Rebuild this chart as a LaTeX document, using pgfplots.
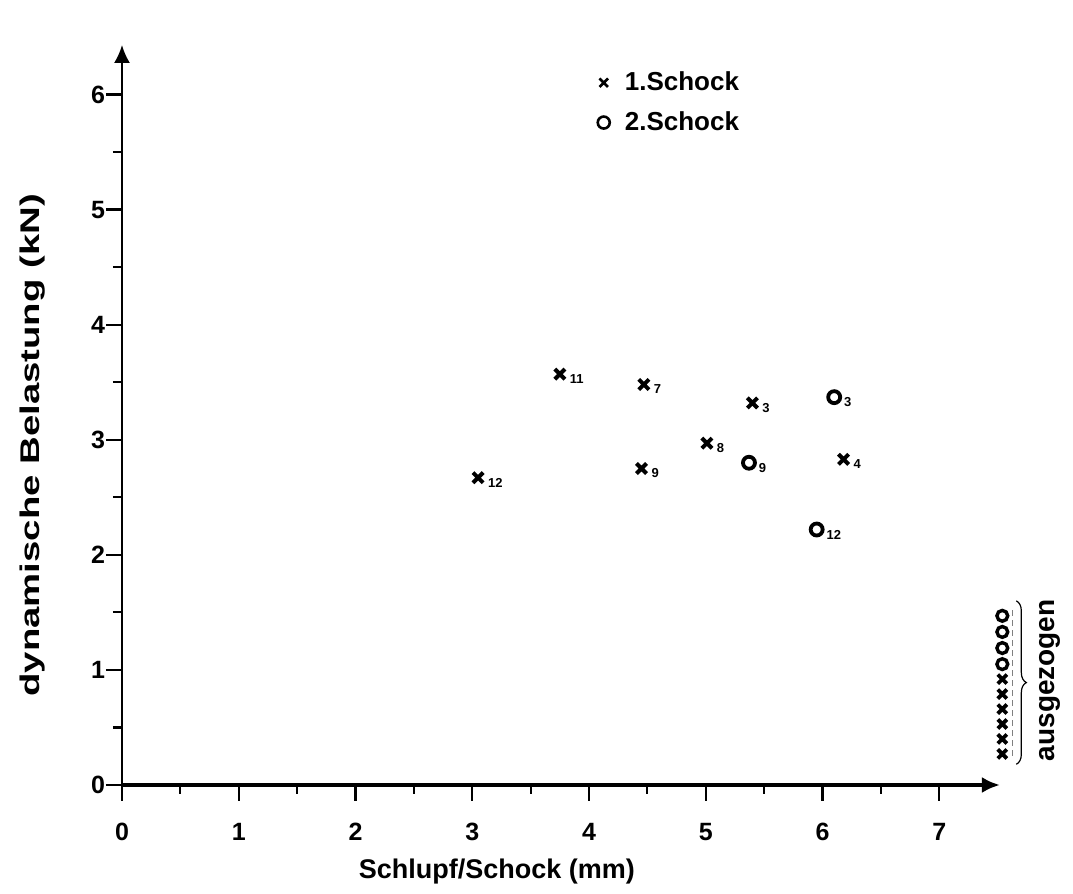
\documentclass[border=0pt]{standalone}
\usepackage{fontspec}
\setmainfont{Liberation Sans}
\usepackage{pgfplots}
\usepackage{pgfplotstable}
\pgfplotsset{compat=1.18}
\usetikzlibrary{arrows.meta,decorations.pathreplacing}

\pgfplotstableread{
x y l
3.75 3.57 11
4.47 3.48 7
5.40 3.32 3
5.01 2.97 8
4.45 2.75 9
6.18 2.83 4
3.05 2.67 12
}\first
\pgfplotstableread{
x y l
6.10 3.37 3
5.37 2.80 9
5.95 2.22 12
}\second
\pgfplotstableread{
x y
7.54 1.47
7.54 1.33
7.54 1.19
7.54 1.05
}\outo
\pgfplotstableread{
x y
7.54 0.92
7.54 0.79
7.54 0.66
7.54 0.53
7.54 0.40
7.54 0.27
}\outx

\begin{document}
\begin{tikzpicture}
\begin{axis}[
  scale only axis, width=439pt, height=370pt,
  xmin=0, xmax=7.52, ymin=0, ymax=6.43,
  clip=false,
  axis lines=left,
  x axis line style={line width=2pt, -{Latex[length=9pt,width=8pt]}},
  y axis line style={line width=1pt, -{Latex[length=9pt,width=8pt]}},
  xtick={0,...,7}, ytick={0,...,6},
  minor x tick num=1, minor y tick num=1,
  tick align=outside,
  major tick length=8pt, minor tick length=4.5pt,
  every tick/.append style={black, line width=1.1pt},
  /pgf/number format/assume math mode=true,
  ticklabel style={font=\fontsize{12.5}{14}\selectfont\bfseries},
  xticklabel style={yshift=-7.5pt},
  yticklabel style={xshift=3pt},
  xlabel={Schlupf/Schock (mm)},
  ylabel={\scalebox{1.42}[1.0]{dynamische Belastung (kN)}},
  label style={font=\fontsize{13.5}{15}\selectfont\bfseries},
  xlabel style={at={(axis description cs:0.427,0)}, anchor=center, yshift=-43.5pt},
  ylabel style={at={(axis description cs:0,0.459)}, anchor=center, yshift=44.5pt},
  legend style={draw=none, fill=none, at={(axis cs:4.02,6.27)}, anchor=north west,
    font=\fontsize{13}{15}\selectfont\bfseries, row sep=5pt},
  legend cell align=left,
  legend image code/.code={\path[draw=none] (-0.1cm,0cm) -- (0.3cm,0cm);
    \draw[#1, mark size=3pt, line width=1.3pt] plot coordinates {(0cm,0cm)};},
]
\addplot[only marks, mark=x, mark size=3.6pt, line width=2pt,
  point meta=explicit symbolic, nodes near coords,
  nodes near coords style={anchor=west, xshift=4pt, yshift=-2.5pt,
    font=\fontsize{6.5}{7}\selectfont\bfseries, inner sep=0pt}]
  table[x=x, y=y, meta=l] {\first};
\addlegendentry{1.Schock}
\addplot[only marks, mark=o, mark size=3pt, line width=1.9pt,
  point meta=explicit symbolic, nodes near coords,
  nodes near coords style={anchor=west, xshift=4pt, yshift=-2.5pt,
    font=\fontsize{6.5}{7}\selectfont\bfseries, inner sep=0pt}]
  table[x=x, y=y, meta=l] {\second};
\addlegendentry{2.Schock}
\addplot[forget plot, only marks, mark=o, mark size=2.7pt, line width=1.7pt] table[x=x, y=y] {\outo};
\addplot[forget plot, only marks, mark=x, mark size=3.2pt, line width=1.9pt] table[x=x, y=y] {\outx};
\draw[densely dashed, line width=0.4pt, gray] (axis cs:7.625,1.52) -- (axis cs:7.625,0.22);
\draw[line width=0.6pt, decorate, decoration={brace, amplitude=5pt}] (axis cs:7.66,1.60) -- (axis cs:7.66,0.18);
\node[rotate=90, anchor=center, font=\fontsize{14}{16}\selectfont\bfseries] at (axis cs:7.95,0.91) {ausgezogen};
\coordinate (O) at (axis cs:0,0);
\end{axis}
\pgfresetboundingbox
\path[use as bounding box] ([shift={(-61pt,-54.5pt)}]O) rectangle ([shift={(475.5pt,392.5pt)}]O);
\end{tikzpicture}
\end{document}
